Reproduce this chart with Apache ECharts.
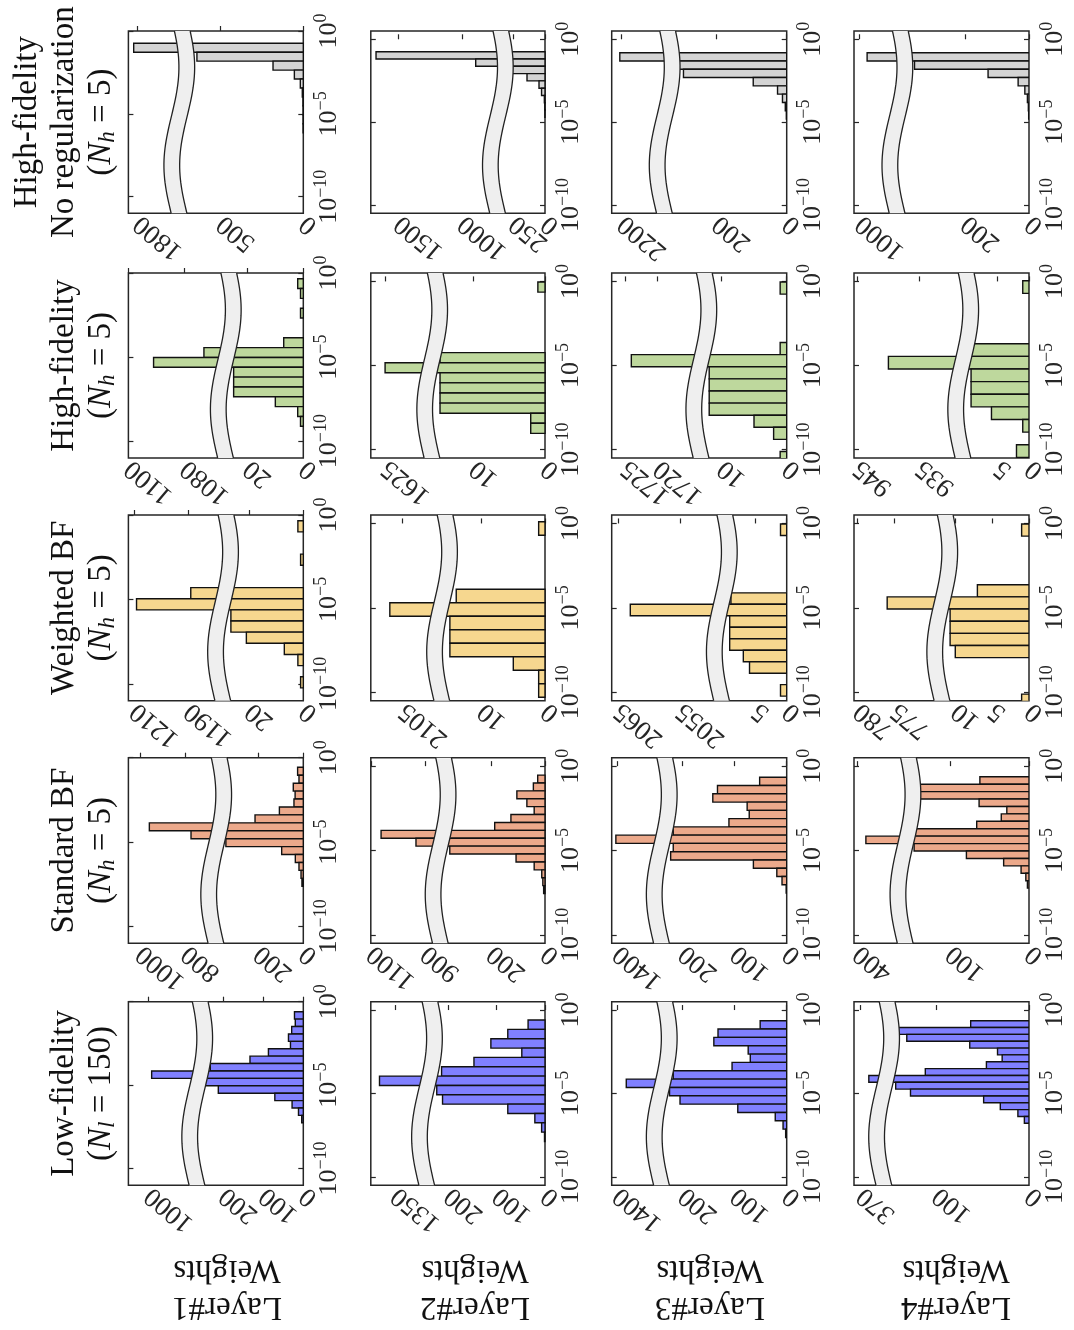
<!DOCTYPE html>
<html><head><meta charset="utf-8">
<script src="https://cdn.jsdelivr.net/npm/echarts@6/dist/echarts.min.js"></script>
<style>html,body{margin:0;padding:0;background:#fff}#c{width:1074px;height:1330px}</style>
</head><body><div id="c"></div>
<script>
// ---------------- DATA ----------------
const layerNames = ['Layer#1', 'Layer#2', 'Layer#3', 'Layer#4'];
const methodTitles = [
  ['Low-fidelity', '({it|N}{sub|l} = 150)'],
  ['Standard BF', '({it|N}{sub|h} = 5)'],
  ['Weighted BF', '({it|N}{sub|h} = 5)'],
  ['High-fidelity', '({it|N}{sub|h} = 5)'],
  ['High-fidelity', 'No regularization', '({it|N}{sub|h} = 5)']
];
const logTicks = [-10, -5, 0];               // exponents of 10
const logMin = [-11, -10.5, -10.5, -10.5];   // per layer column
const logMax = [0, 0.5, 0.5, 0.5];

// histogram counts, first value = bin with the largest weights (top)
const countsLF = [
  [22, 20, 29, 37, 32, 87, 133, 232, 992, 255, 212, 71, 28, 12, 4],
  [35, 77, 112, 48, 147, 214, 1382, 224, 212, 77, 21, 7, 1],
  [51, 132, 140, 74, 70, 105, 218, 1382, 230, 205, 94, 22, 7, 2],
  [63, 141, 132, 64, 34, 29, 46, 112, 361, 144, 128, 49, 31, 12, 5]
];
const countsSBF = [
  [25, 19, 44, 36, 41, 105, 212, 958, 775, 340, 95, 35, 19, 10, 6],
  [27, 43, 104, 67, 40, 126, 186, 1062, 933, 352, 107, 40, 12, 8, 5],
  [52, 133, 142, 76, 72, 111, 218, 1402, 218, 223, 64, 19, 9, 1],
  [62, 142, 138, 63, 28, 35, 66, 145, 389, 145, 79, 32, 10, 4, 2]
];
const countsWBF = [
  [2, 0, 0, 1, 0, 0, 1189, 1209, 28, 28, 21, 7, 2, 0, 1],
  [1, 0, 0, 0, 0, 14, 2107, 16, 16, 15, 5, 1, 1],
  [1, 0, 0, 0, 0, 0, 9, 2063, 10, 11, 11, 7, 6, 0, 1],
  [1, 0, 0, 0, 0, 7, 776, 11, 11, 11, 10, 0, 0, 0, 1]
];
const countsHF = [
  [2, 1, 0, 1, 0, 0, 7, 1073, 1091, 26, 26, 26, 10, 2, 1],
  [1, 0, 0, 0, 0, 0, 0, 15, 1625, 16, 16, 16, 16, 2, 2],
  [1, 0, 0, 0, 0, 1, 1724, 12, 12, 12, 12, 5, 2, 0, 1],
  [1, 0, 0, 0, 0, 10, 940, 10, 10, 10, 6, 1, 0, 2]
];
const countsNR = [
  [1822, 643, 183, 54, 18, 6, 2, 1, 1, 1],
  [1673, 892, 281, 141, 47, 27, 5, 2, 1],
  [2205, 310, 293, 95, 26, 12, 4, 1],
  [976, 358, 128, 34, 13, 5, 2, 1]
];

// bin layout (log10 of weight): upper edge of first bin, bin width in decades
const binTopLF = [-0.60, -0.60, -0.64, -0.64];   const binWidthLF = [0.444, 0.56, 0.5, 0.41];
const binTopSBF = [-0.57, -0.53, -0.66, -0.63];  const binWidthSBF = [0.47, 0.468, 0.49, 0.44];
const binTopWBF = [-0.34, 0.10, -0.03, -0.03];   const binWidthWBF = [0.66, 0.80, 0.68, 0.72];
const binTopHF = [-0.34, -0.035, -0.035, 0.04];  const binWidthHF = [0.585, 0.60, 0.72, 0.75];
const binTopNR = [-0.74, -0.75, -0.81, -0.81];   const binWidthNR = [0.54, 0.44, 0.5, 0.5];

// count axes: max, broken range, tick labels
const axisMaxLF = [1050, 1400, 1410, 377];
const breakLF = [[245, 898], [228, 1300], [225, 1329], [148, 353]];
const ticksLF = [[0, 100, 200, 1000], [0, 100, 200, 1350], [0, 100, 200, 1400], [0, 100, 370]];
const axisMaxSBF = [1050, 1100, 1410, 404];
const breakSBF = [[348, 699], [357, 871], [225, 1329], [146, 349]];
const ticksSBF = [[0, 200, 800, 1000], [0, 200, 900, 1100], [0, 100, 200, 1400], [0, 100, 400]];
const axisMaxWBF = [1212, 2110, 2066, 780.5];
const breakWBF = [[26.7, 1180], [15, 2100], [9.2, 2049.5], [10.7, 769.6]];
const ticksWBF = [[0, 20, 1190, 1210], [0, 10, 2105], [0, 5, 2055, 2065], [0, 5, 10, 775, 780]];
const axisMaxHF = [1100, 1627, 1727, 945.5];
const breakHF = [[24.9, 1068], [14.7, 1619.5], [11.85, 1714.5], [9.26, 929.3]];
const ticksHF = [[0, 20, 1080, 1100], [0, 10, 1625], [0, 10, 1720, 1725], [0, 5, 935, 945]];
const axisMaxNR = [1854, 1714, 2228, 1017];
const breakNR = [[702, 1594], [308, 780], [324, 2100], [387, 906]];
const ticksNR = [[0, 500, 1800], [0, 250, 1000, 1500], [0, 200, 2200], [0, 200, 1000]];

// ---------------- LAYOUT / STYLE ----------------
const FONT = '"Liberation Serif","Times New Roman",serif';
const TXT = '#262626';
const methods = [
  {counts: countsLF, top: binTopLF, w: binWidthLF, max: axisMaxLF, brk: breakLF, ticks: ticksLF, color: '#8080ff', rowTop: 1001.7, rowH: 183.5},
  {counts: countsSBF, top: binTopSBF, w: binWidthSBF, max: axisMaxSBF, brk: breakSBF, ticks: ticksSBF, color: '#eca98b', rowTop: 757.7, rowH: 185.6},
  {counts: countsWBF, top: binTopWBF, w: binWidthWBF, max: axisMaxWBF, brk: breakWBF, ticks: ticksWBF, color: '#f6d78f', rowTop: 515, rowH: 185.7},
  {counts: countsHF, top: binTopHF, w: binWidthHF, max: axisMaxHF, brk: breakHF, ticks: ticksHF, color: '#bed89d', rowTop: 273, rowH: 185},
  {counts: countsNR, top: binTopNR, w: binWidthNR, max: axisMaxNR, brk: breakNR, ticks: ticksNR, color: '#d4d4d4', rowTop: 31, rowH: 182.3}
];
const colLeft = [128.4, 370.8, 611.7, 854];
const colWidth = [174.9, 174.2, 175, 175];
const layerLabelX = [227, 475, 710, 956];

const grids = [], xAxes = [], yAxes = [], series = [];
let gi = 0;

function barRenderer(color) {
  return function (params, api) {
    const top = api.value(0), bot = api.value(1), c = api.value(2);
    if (!c) return null;
    const p0 = api.coord([0, top]);
    const p1 = api.coord([c, bot]);
    return {
      type: 'rect',
      shape: {x: Math.min(p0[0], p1[0]), y: Math.min(p0[1], p1[1]), width: Math.abs(p1[0] - p0[0]), height: Math.abs(p1[1] - p0[1])},
      style: {fill: color, stroke: '#111', lineWidth: 1.4}
    };
  };
}
function bandRenderer(bs, be) {
  return function (params, api) {
    const cs = params.coordSys;
    const xa = api.coord([bs, 0])[0], xb = api.coord([be, 0])[0];
    const cx = (xa + xb) / 2, hw = Math.abs(xa - xb) / 2;
    const L = [], R = [];
    const N = 48;
    for (let i = 0; i <= N; i++) {
      const t = i / N;
      const y = cs.y + t * cs.height;
      const off = 7.5 * Math.sin(0.41 + 5.84 * t);
      L.push([cx - hw + off, y]);
      R.push([cx + hw + off, y]);
    }
    const poly = L.concat(R.slice().reverse());
    return {
      type: 'group',
      children: [
        {type: 'polygon', shape: {points: poly}, style: {fill: '#efefef', stroke: null}},
        {type: 'polyline', shape: {points: L}, style: {fill: null, stroke: '#222', lineWidth: 1.3}},
        {type: 'polyline', shape: {points: R}, style: {fill: null, stroke: '#222', lineWidth: 1.3}}
      ]
    };
  };
}

function countAxis(gridIndex, M, c, labels, withTicks) {
  return {
    gridIndex: gridIndex, type: 'value', inverse: true, min: 0, max: M.max[c],
    breaks: [{start: M.brk[c][0], end: M.brk[c][1], gap: '9%'}],
    breakArea: {show: false},
    axisLine: {show: false}, splitLine: {show: false},
    axisTick: {show: withTicks, inside: true, length: 5, customValues: M.ticks[c], lineStyle: {color: TXT, width: 1.2}},
    axisLabel: {customValues: labels, rotate: 140, margin: 7, fontFamily: FONT, fontSize: 27, color: TXT,
      hideOverlap: false, formatter: (v) => String(v)}
  };
}

methods.forEach((M) => {
  for (let c = 0; c < 4; c++) {
    const gMain = 2 * gi, gOver = 2 * gi + 1;
    const rect = {left: colLeft[c], top: M.rowTop, width: colWidth[c], height: M.rowH, containLabel: false};
    grids.push(Object.assign({show: true, borderColor: '#262626', borderWidth: 1.5, backgroundColor: 'transparent'}, rect));
    grids.push(Object.assign({show: false}, rect));
    // tick labels alternate between two overlaid axes so none is dropped
    const labA = M.ticks[c].filter((_, i) => i % 2 === 0);
    const labB = M.ticks[c].filter((_, i) => i % 2 === 1);
    xAxes.push(countAxis(gMain, M, c, labA, true));
    xAxes.push(countAxis(gOver, M, c, labB, false));
    const yCommon = {type: 'value', min: logMin[c], max: logMax[c],
      axisLine: {show: false}, splitLine: {show: false},
      axisTick: {show: true, inside: true, length: 5, customValues: logTicks, lineStyle: {color: TXT, width: 1.2}}};
    yAxes.push(Object.assign({}, yCommon, {
      gridIndex: gMain, position: 'right',
      axisLabel: {customValues: logTicks, rotate: 90, margin: 9, fontFamily: FONT, fontSize: 26, color: TXT,
        formatter: (v) => '{base|10}{sup|' + (v < 0 ? '\u2212' + String(-v) : String(v)) + '}',
        rich: {
          base: {fontFamily: FONT, fontSize: 26, color: TXT, lineHeight: 30, verticalAlign: 'bottom'},
          sup: {fontFamily: FONT, fontSize: 18, color: TXT, lineHeight: 4, verticalAlign: 'top'}
        }}
    }));
    yAxes.push(Object.assign({}, yCommon, {gridIndex: gMain, position: 'left', axisLabel: {show: false}}));
    yAxes.push({gridIndex: gOver, type: 'value', min: logMin[c], max: logMax[c], show: false});
    const xi = 2 * gi, yi = 3 * gi;
    const data = M.counts[c].map((cnt, i) => [M.top[c] - i * M.w[c], M.top[c] - (i + 1) * M.w[c], cnt]);
    series.push({type: 'custom', xAxisIndex: xi, yAxisIndex: yi, data: data, encode: {x: 2, y: [0, 1]},
      renderItem: barRenderer(M.color), clip: true, z: 2, silent: true});
    series.push({type: 'custom', xAxisIndex: xi, yAxisIndex: yi, data: [[0, 0, 0]], encode: {x: 2, y: [0, 1]},
      renderItem: bandRenderer(M.brk[c][0], M.brk[c][1]), clip: false, z: 3, silent: true});
    gi++;
  }
});

const graphics = [];
methodTitles.forEach((lines, mi) => {
  const M = methods[mi];
  graphics.push({
    type: 'text', x: lines.length === 3 ? 64 : 82.5, y: M.rowTop + M.rowH / 2, rotation: Math.PI / 2,
    style: {
      text: lines.join('\n'), fontFamily: FONT, fontSize: 33, lineHeight: 37, fill: '#111',
      align: 'center', verticalAlign: 'middle',
      rich: {
        it: {fontFamily: FONT, fontSize: 33, fontStyle: 'italic', lineHeight: 37, fill: '#111'},
        sub: {fontFamily: FONT, fontSize: 23, fontStyle: 'italic', lineHeight: 18, verticalAlign: 'bottom', fill: '#111'}
      }
    }
  });
});
layerNames.forEach((name, c) => {
  graphics.push({
    type: 'text', x: layerLabelX[c], y: 1288, rotation: Math.PI,
    style: {text: name + '\nWeights', fontFamily: FONT, fontSize: 33, lineHeight: 37, fill: '#111',
      align: 'center', verticalAlign: 'middle'}
  });
});

const chart = echarts.init(document.getElementById('c'), null, {renderer: 'canvas'});
chart.setOption({
  animation: false,
  backgroundColor: '#fff',
  grid: grids, xAxis: xAxes, yAxis: yAxes, series: series,
  graphic: graphics
});
</script>
</body></html>
